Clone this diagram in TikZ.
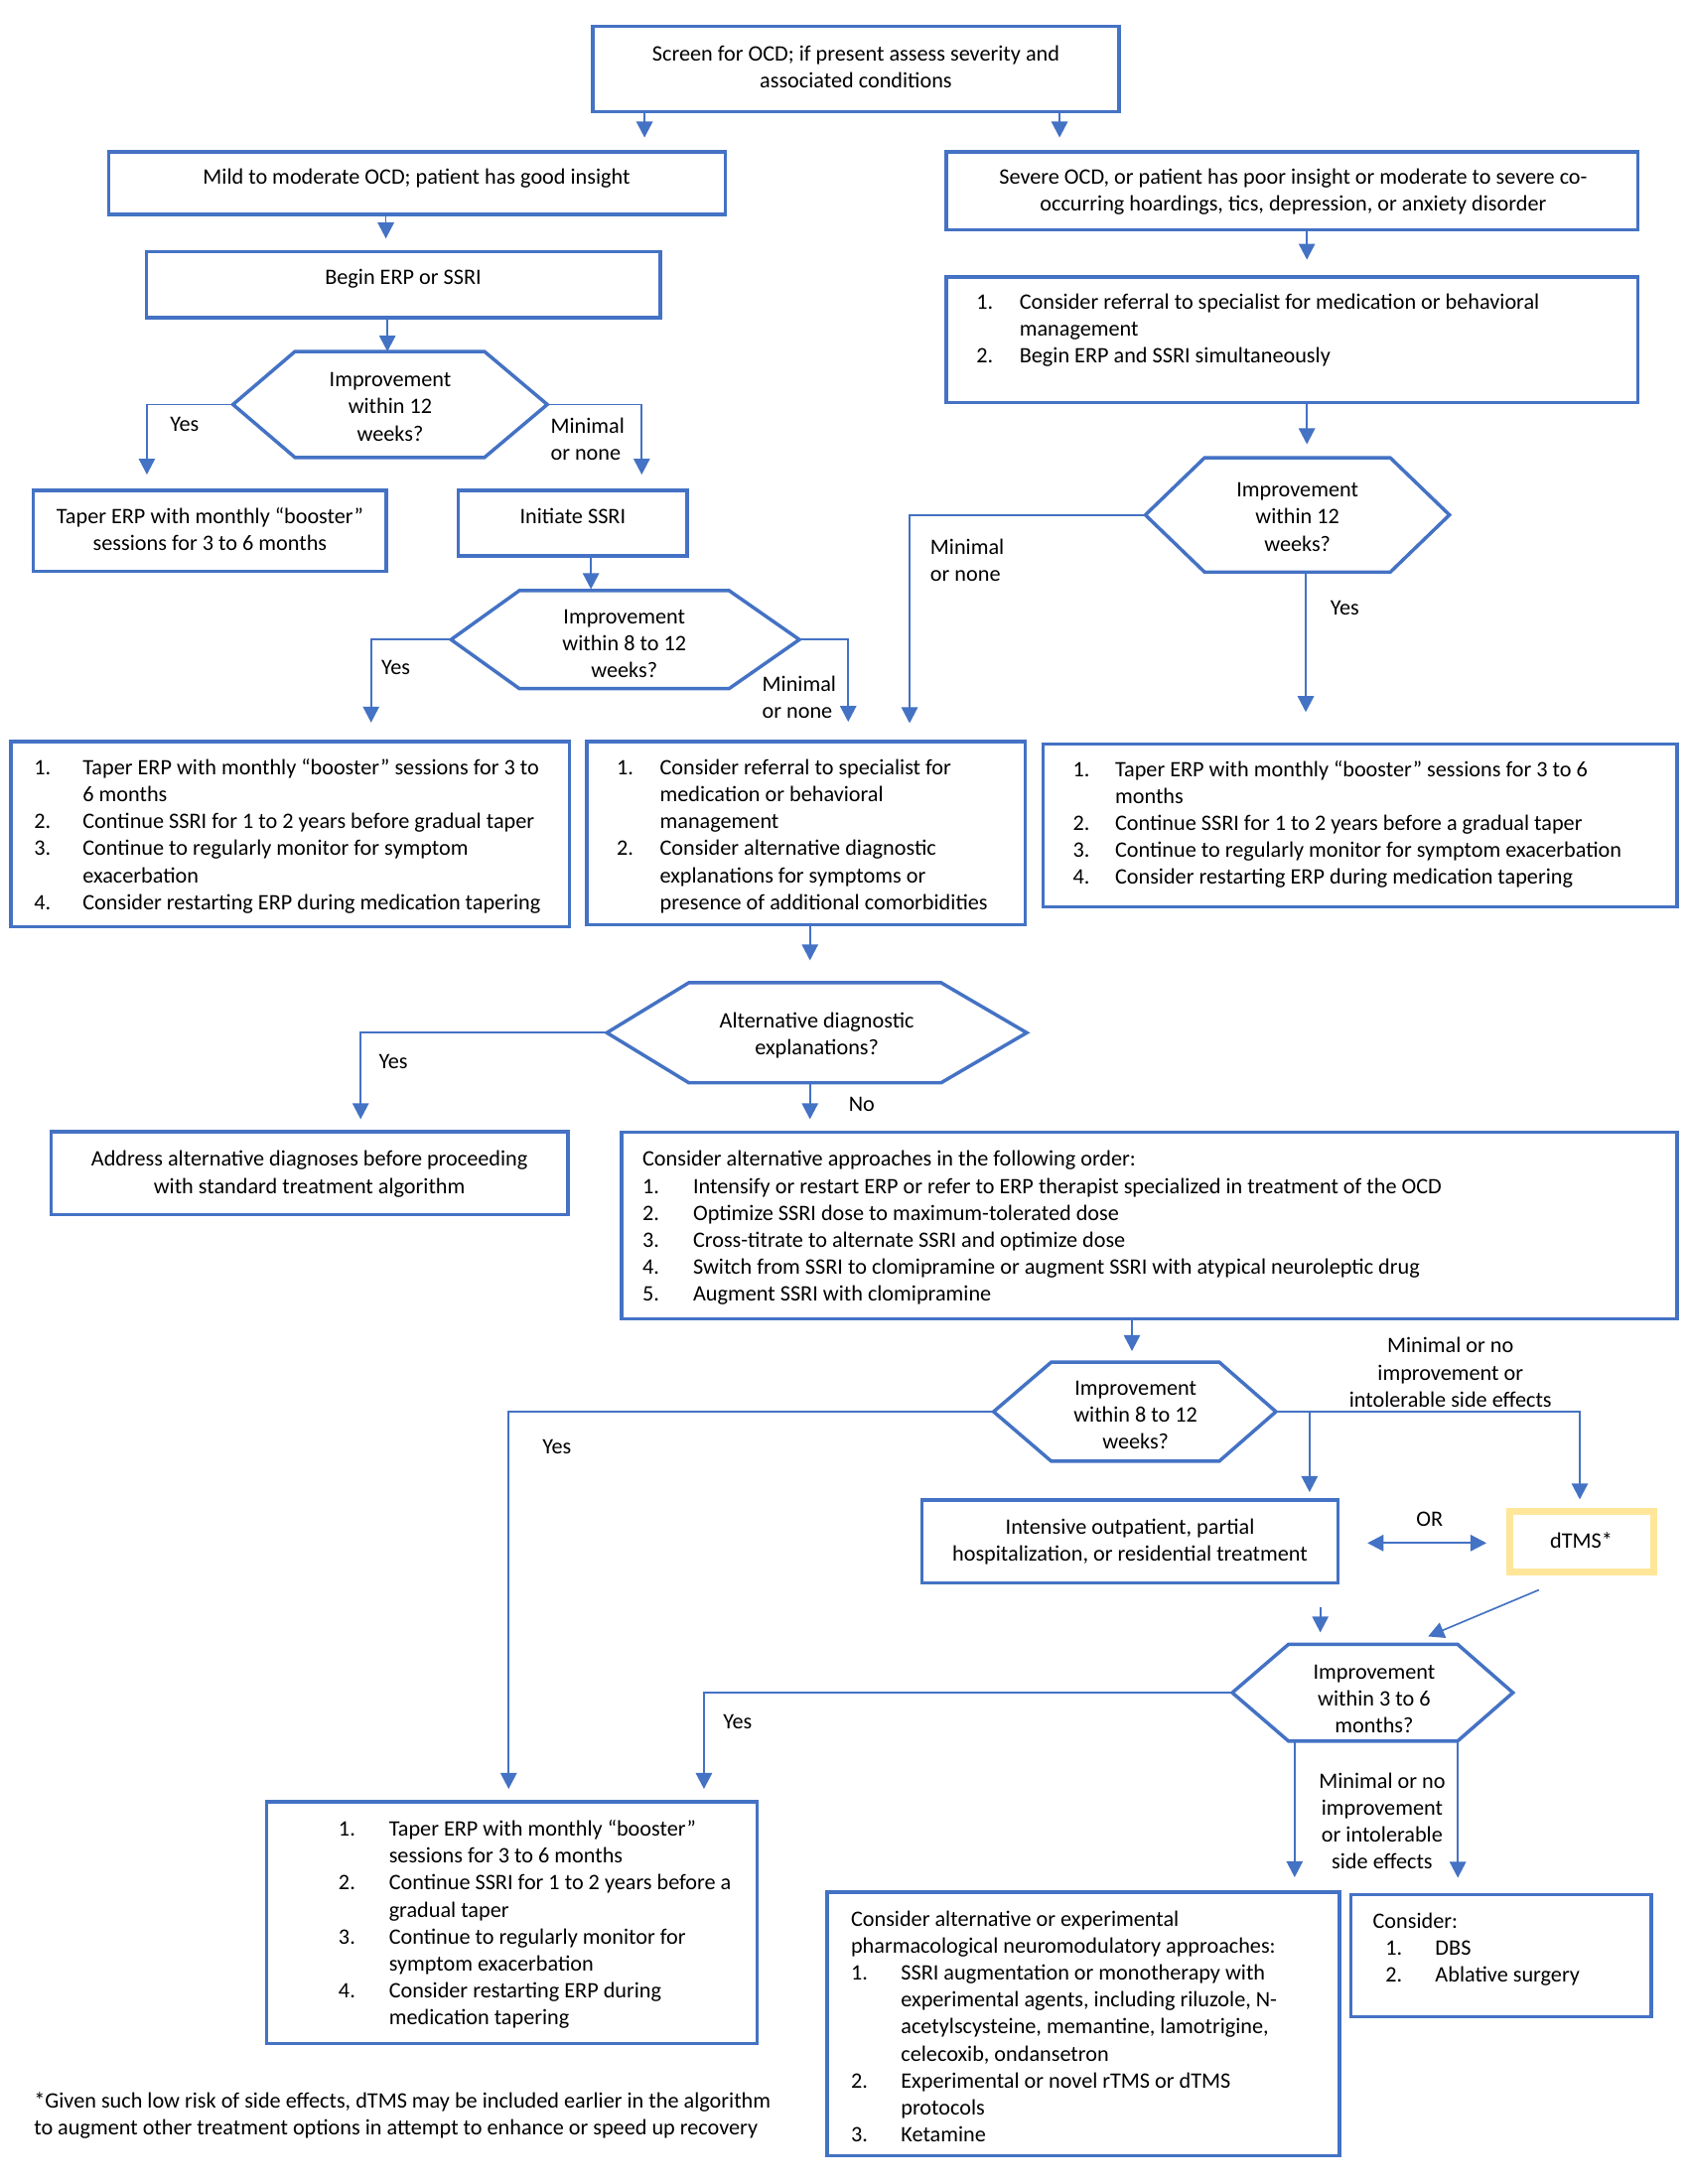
\documentclass[tikz,border=0pt]{standalone}
\usepackage{fontspec}
\setmainfont{Carlito}
\usetikzlibrary{arrows.meta,fit}
\newlength\pu \setlength\pu{0.5051pt}
\newcommand\fs{\fontsize{8}{9.75}\selectfont}
\newcommand\nm[2]{\makebox[#1\pu][l]{#2}}
\newcommand\ind[1]{\hspace*{#1\pu}}
\definecolor{bl}{HTML}{4472C4}
\definecolor{yl}{HTML}{FFE699}
\tikzset{
  box/.style={draw=bl, line width=1.25pt, inner sep=0pt},
  ybox/.style={draw=yl, line width=2.5pt, inner sep=0pt},
  hexs/.style={draw=bl, line width=1.25pt},
  arr/.style={draw=bl, line width=0.6pt, -{Triangle[width=5.9pt,length=5.8pt]}},
  darr/.style={draw=bl, line width=0.6pt, {Triangle[width=5.9pt,length=5.8pt]}-{Triangle[width=5.9pt,length=5.8pt]}},
  tc/.style={inner sep=0pt, anchor=north, yshift=6.825pt, font=\fs, align=center},
  tl/.style={inner sep=0pt, anchor=north west, yshift=6.825pt, font=\fs, align=left}
}
\newcommand\hexa[7]{%
  \path (#2,{(#6+#7)/2}) coordinate (#1L) (#3,#6) coordinate (#1TL) (#4,#6) coordinate (#1TR)
        (#5,{(#6+#7)/2}) coordinate (#1R) (#4,#7) coordinate (#1BR) (#3,#7) coordinate (#1BL);
  \draw[hexs] (#1TL) -- (#1TR) -- (#1R) -- (#1BR) -- (#1BL) -- (#1L) -- cycle;}
\begin{document}
\begin{tikzpicture}[x=0.50579pt, y=-0.50510pt]
\fill[white] (0,0) rectangle (1210,1568);
\useasboundingbox (0,0) rectangle (1210,1568);

% ---------- boxes ----------
\node[box, fit={(425,19) (802,80)}] (top) {};
\node[box, fit={(78,109) (520,154)}] (mild) {};
\node[box, fit={(105,180.5) (473.3,228)}] (begin) {};
\node[box, fit={(24,352) (277,410)}] (taper1) {};
\node[box, fit={(328.6,352) (492.6,399)}] (initiate) {};
\node[box, fit={(678.3,109) (1174,165)}] (severe) {};
\node[box, fit={(678.3,198.7) (1174,289)}] (list0) {};
\node[box, fit={(7.7,532.5) (408,665.5)}] (list1) {};
\node[box, fit={(420.5,532.5) (735,664)}] (list2) {};
\node[box, fit={(747.7,534) (1202,651)}] (list3) {};
\node[box, fit={(36.7,812.4) (407,872)}] (address) {};
\node[box, fit={(445.6,812.8) (1202,947)}] (consider) {};
\node[box, fit={(661,1076.8) (959,1136.5)}] (intensive) {};
\node[ybox, fit={(1082,1085) (1185.5,1128.5)}] (dtms) {};
\node[box, fit={(191,1293.6) (542.8,1467)}] (list4) {};
\node[box, fit={(593,1358.5) (960,1547.5)}] (midlist) {};
\node[box, fit={(968.4,1360.4) (1183.6,1448)}] (dbs) {};

% ---------- hexagons ----------
\hexa{h1}{167}{211.4}{347.3}{392.3}{252.4}{328.4}
\hexa{h2}{323.3}{372.3}{522.6}{573}{424}{494.4}
\hexa{h3}{821}{863.4}{996.6}{1039}{328.7}{410.7}
\hexa{h4}{435}{493.8}{674.5}{736}{705.5}{777.4}
\hexa{h5}{712.2}{753.5}{874}{914.6}{978}{1049}
\hexa{h6}{883.3}{923.6}{1044.8}{1084.5}{1180.5}{1250}

% ---------- box texts ----------
\node[tc] (ttop) at (613.5,43.1) {\strut Screen for OCD; if present assess severity and\\associated conditions};
\node[tc] (tmild) at (298.6,132) {\strut Mild to moderate OCD; patient has good insight};
\node[tc] (tbegin) at (289,204) {\strut Begin ERP or SSRI};
\node[tc] (ttaper1) at (150.5,375.6) {\strut Taper ERP with monthly “booster”\\sessions for 3 to 6 months};
\node[tc] (tinit) at (410.6,375.6) {\strut Initiate SSRI};
\node[tc] (tsevere) at (927,132) {\strut Severe OCD, or patient has poor insight or moderate to severe co-\\occurring hoardings, tics, depression, or anxiety disorder};
\node[tl] (tlist0) at (699.5,221.8) {\strut\nm{31}{1.}Consider referral to specialist for medication or behavioral\\
  \ind{31}management\\
  \nm{31}{2.}Begin ERP and SSRI simultaneously};
\node[tl] (tlist1) at (24,556) {\strut\nm{35}{1.}Taper ERP with monthly “booster” sessions for 3 to\\
  \ind{35}6 months\\
  \nm{35}{2.}Continue SSRI for 1 to 2 years before gradual taper\\
  \nm{35}{3.}Continue to regularly monitor for symptom\\
  \ind{35}exacerbation\\
  \nm{35}{4.}Consider restarting ERP during medication tapering};
\node[tl] (tlist2) at (441.7,556) {\strut\nm{31}{1.}Consider referral to specialist for\\
  \ind{31}medication or behavioral\\
  \ind{31}management\\
  \nm{31}{2.}Consider alternative diagnostic\\
  \ind{31}explanations for symptoms or\\
  \ind{31}presence of additional comorbidities};
\node[tl] (tlist3) at (768.8,557.3) {\strut\nm{30.2}{1.}Taper ERP with monthly “booster” sessions for 3 to 6\\
  \ind{30.2}months\\
  \nm{30.2}{2.}Continue SSRI for 1 to 2 years before a gradual taper\\
  \nm{30.2}{3.}Continue to regularly monitor for symptom exacerbation\\
  \nm{30.2}{4.}Consider restarting ERP during medication tapering};
\node[tc] (taddr) at (221.8,837) {\strut Address alternative diagnoses before proceeding\\with standard treatment algorithm};
\node[tl] (tconsider) at (460.2,837) {\strut Consider alternative approaches in the following order:\\
  \nm{36.3}{1.}Intensify or restart ERP or refer to ERP therapist specialized in treatment of the OCD\\
  \nm{36.3}{2.}Optimize SSRI dose to maximum-tolerated dose\\
  \nm{36.3}{3.}Cross-titrate to alternate SSRI and optimize dose\\
  \nm{36.3}{4.}Switch from SSRI to clomipramine or augment SSRI with atypical neuroleptic drug\\
  \nm{36.3}{5.}Augment SSRI with clomipramine};
\node[tc] (tint) at (810,1100.8) {\strut Intensive outpatient, partial\\hospitalization, or residential treatment};
\node[tc] (tdtms) at (1133.5,1111) {\strut dTMS*};
\node[tl] (tlist4) at (242.3,1318) {\strut\nm{36.2}{1.}Taper ERP with monthly “booster”\\
  \ind{36.2}sessions for 3 to 6 months\\
  \nm{36.2}{2.}Continue SSRI for 1 to 2 years before a\\
  \ind{36.2}gradual taper\\
  \nm{36.2}{3.}Continue to regularly monitor for\\
  \ind{36.2}symptom exacerbation\\
  \nm{36.2}{4.}Consider restarting ERP during\\
  \ind{36.2}medication tapering};
\node[tl] (tmid) at (609.6,1382.7) {\strut Consider alternative or experimental\\
  pharmacological neuromodulatory approaches:\\
  \nm{35.9}{1.}SSRI augmentation or monotherapy with\\
  \ind{35.9}experimental agents, including riluzole, N-\\
  \ind{35.9}acetylscysteine, memantine, lamotrigine,\\
  \ind{35.9}celecoxib, ondansetron\\
  \nm{35.9}{2.}Experimental or novel rTMS or dTMS\\
  \ind{35.9}protocols\\
  \nm{35.9}{3.}Ketamine};
\node[tl] (tdbs) at (983.7,1384) {\strut Consider:\\
  \ind{9}\nm{35.8}{1.}DBS\\
  \ind{9}\nm{35.8}{2.}Ablative surgery};
\node[tl] (tfoot) at (24,1513) {\strut *Given such low risk of side effects, dTMS may be included earlier in the algorithm\\
  to augment other treatment options in attempt to enhance or speed up recovery};

% ---------- hexagon texts ----------
\node[tc] (th1) at (279.7,277.5) {\strut Improvement\\within 12\\weeks?};
\node[tc] (th2) at (447.5,447.3) {\strut Improvement\\within 8 to 12\\weeks?};
\node[tc] (th3) at (930,356.6) {\strut Improvement\\within 12\\weeks?};
\node[tc] (th4) at (585.5,737.8) {\strut Alternative diagnostic\\explanations?};
\node[tc] (th5) at (814,1001.5) {\strut Improvement\\within 8 to 12\\weeks?};
\node[tc] (th6) at (985,1205) {\strut Improvement\\within 3 to 6\\months?};

% ---------- connector labels ----------
\node[tl] (l1y) at (121.5,309) {\strut Yes};
\node[tl] (l1n) at (394.3,311) {\strut Minimal\\or none};
\node[tl] (l2y) at (273,484) {\strut Yes};
\node[tl] (l2n) at (546,496) {\strut Minimal\\or none};
\node[tl] (l3n) at (666.5,397.7) {\strut Minimal\\or none};
\node[tl] (l3y) at (953.3,441) {\strut Yes};
\node[tl] (l4y) at (271.2,767) {\strut Yes};
\node[tl] (l4n) at (608,797.6) {\strut No};
\node[tl] (l5y) at (388.5,1043.6) {\strut Yes};
\node[tc] (l5n) at (1039.7,971) {\strut Minimal or no\\improvement or\\intolerable side effects};
\node[tc] (lor) at (1024.7,1095.7) {\strut OR};
\node[tl] (l6y) at (518,1241) {\strut Yes};
\node[tc] (l6n) at (990.7,1283.6) {\strut Minimal or no\\improvement\\or intolerable\\side effects};

% ---------- connectors ----------
\draw[arr, shorten >=9\pu] (top.south -| 462,0) -- (mild.north -| 462,0);
\draw[arr, shorten >=9\pu] (top.south -| 759.5,0) -- (severe.north -| 759.5,0);
\draw[arr, shorten >=8\pu] (mild.south -| 276.6,0) -- (begin.north -| 276.6,0);
\draw[arr] (begin.south -| 277.7,0) -- (h1TL -| 277.7,0);
\draw[arr, shorten >=10\pu] (h1L) -| (taper1.north -| 105.3,0);
\draw[arr, shorten >=10\pu] (h1R) -| (initiate.north -| 460,0);
\draw[arr, shorten >=1\pu] (initiate.south -| 423.6,0) -- (h2TL -| 423.6,0);
\draw[arr, shorten >=12.5\pu] (h2L) -| (list1.north -| 266,0);
\draw[arr, shorten >=13\pu] (h2R) -| (list2.north -| 608,0);
\draw[arr, shorten >=11\pu] (severe.south -| 936.8,0) -- (list0.north -| 936.8,0);
\draw[arr, shorten >=9.7\pu] (list0.south -| 936.8,0) -- (h3TL -| 936.8,0);
\draw[arr, shorten >=12\pu] (h3L) -| (list2.north -| 652,0);
\draw[arr, shorten >=21.5\pu] (h3BL -| 936,0) -- (list3.north -| 936,0);
\draw[arr, shorten >=16\pu] (list2.south -| 580.6,0) -- (h4TL -| 580.6,0);
\draw[arr, shorten >=7.6\pu] (h4L) -| (address.north -| 258.5,0);
\draw[arr, shorten >=8\pu] (h4BL -| 580.6,0) -- (consider.north -| 580.6,0);
\draw[arr, shorten >=8\pu] (consider.south -| 811.4,0) -- (h5TL -| 811.4,0);
\draw[arr, shorten >=8\pu] (h5L) -| (list4.north -| 364.6,0);
\draw[arr, shorten >=6\pu] (h5R) -| (dtms.north -| 1132.4,0);
\draw[arr, shorten >=4.3\pu] (h5R -| 938.7,0) -- (intensive.north -| 938.7,0);
\draw[darr, shorten <=20\pu, shorten >=14\pu] (intensive.east |- 0,1107.8) -- (dtms.west |- 0,1107.8);
\draw[arr, shorten <=16.5\pu, shorten >=8.5\pu] (intensive.south -| 946.4,0) -- (h6TL -| 946.4,0);
\draw[arr, shorten <=27\pu, shorten >=14.5\pu] (dtms.south -| 1128,0) -- (h6TL -| 1010.3,0);
\draw[arr, shorten >=8\pu] (h6L) -| (list4.north -| 504.6,0);
\draw[arr, shorten >=9.5\pu] (h6BL -| 928,0) -- (midlist.north -| 928,0);
\draw[arr, shorten >=11\pu] (h6BR -| 1045,0) -- (dbs.north -| 1045,0);
\end{tikzpicture}
\end{document}
